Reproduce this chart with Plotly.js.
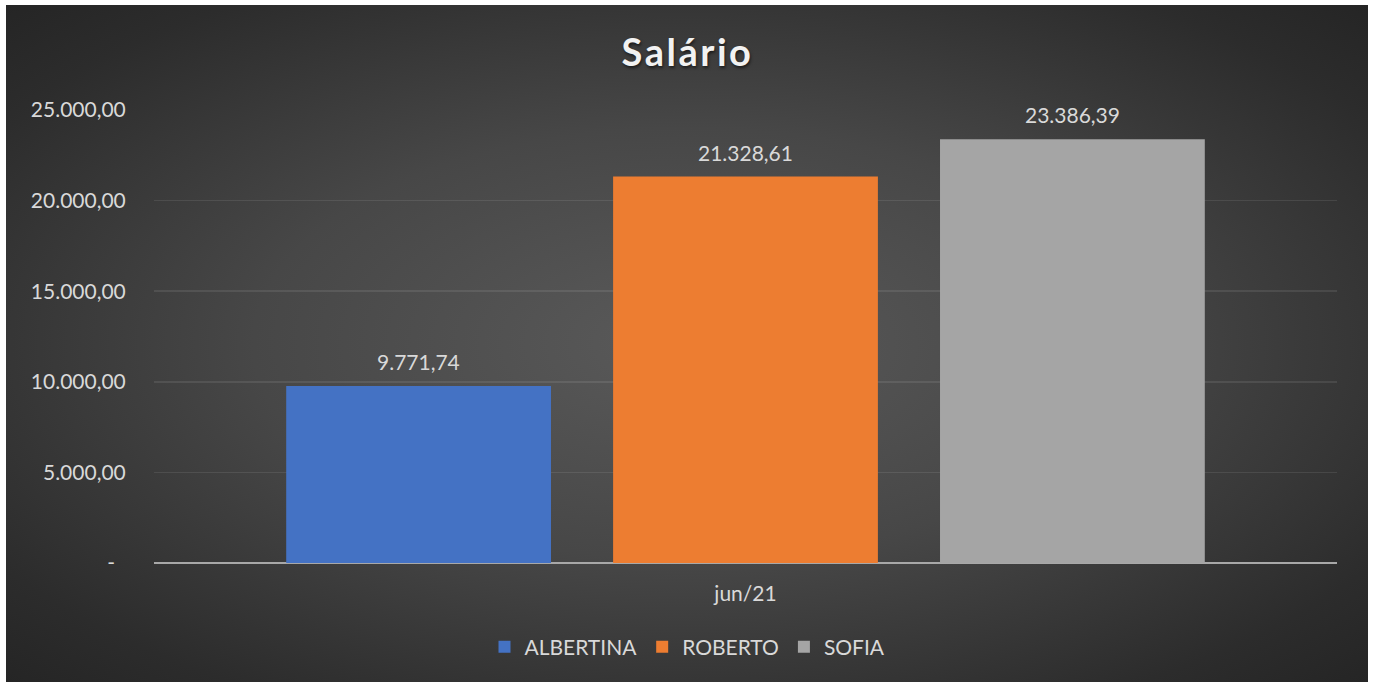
<!DOCTYPE html>
<html>
<head>
<meta charset="utf-8">
<script src="https://cdn.plot.ly/plotly-3.0.1.min.js"></script>
<style>
  html, body { margin: 0; padding: 0; background: #ffffff; }
  #bg { position: absolute; left: 6px; top: 5px; width: 1362px; height: 677px;
        background: radial-gradient(ellipse farthest-corner at 50% 50%, #5a5a5a 0%, #474747 45%, #2c2c2c 85%, #252525 100%); }
  #chart { position: absolute; left: 0; top: 0; width: 1375px; height: 682px; }
  .gtitle { letter-spacing: 2.5px; }
</style>
</head>
<body>
<div id="bg"></div>
<div id="chart"></div>
<script>
const categories = ['jun/21'];
const seriesNames = ['ALBERTINA', 'ROBERTO', 'SOFIA'];
const albertina = [9771.74];
const roberto = [21328.61];
const sofia = [23386.39];
const seriesValues = [albertina, roberto, sofia];
const seriesColors = ['#4472C4', '#ED7D31', '#A5A5A5'];
const yTickVals = [0, 5000, 10000, 15000, 20000, 25000];
const yTickText = ['-\u00a0\u00a0', '5.000,00', '10.000,00', '15.000,00', '20.000,00', '25.000,00'];

const font = 'Lato, "Open Sans", sans-serif';
const textColor = '#d9d9d9';

const traces = seriesNames.map((name, i) => ({
  type: 'bar',
  name: name,
  x: categories,
  y: seriesValues[i],
  marker: { color: seriesColors[i], line: { width: 0 } },
  hoverinfo: 'none'
}));

// data labels placed through the axes' own scales, offset per series slot
const slotPx = 327;
const fmt = v => v.toLocaleString('de-DE', { minimumFractionDigits: 2, maximumFractionDigits: 2 });
const annotations = [];
seriesValues.forEach((vals, i) => {
  vals.forEach((v, j) => {
    annotations.push({
      x: categories[j], y: v, xref: 'x', yref: 'y',
      text: fmt(v), showarrow: false,
      xshift: (i - (seriesValues.length - 1) / 2) * slotPx,
      yanchor: 'bottom', yshift: 10,
      font: { family: font, size: 21, color: textColor }
    });
  });
});

const layout = {
  width: 1375, height: 682,
  paper_bgcolor: 'rgba(0,0,0,0)',
  plot_bgcolor: 'rgba(0,0,0,0)',
  separators: ',.',
  margin: { l: 154, r: 38, t: 110, b: 119 },
  title: {
    text: '<b>Salário</b>',
    x: 0.5, xanchor: 'center',
    y: 1 - 53 / 682, yanchor: 'middle',
    font: { family: font, size: 38, color: '#f2f2f2', shadow: '1px 2px 3px rgba(0,0,0,0.55)' }
  },
  barmode: 'group',
  bargap: 0.171,
  bargroupgap: 0.19,
  xaxis: {
    type: 'category',
    showgrid: false,
    zeroline: false,
    showline: false,
    ticks: 'outside', ticklen: 12, tickcolor: 'rgba(0,0,0,0)',
    tickfont: { family: font, size: 21, color: textColor }
  },
  yaxis: {
    range: [0, 25000],
    tickvals: yTickVals,
    ticktext: yTickText,
    showgrid: true,
    gridcolor: 'rgba(255,255,255,0.09)',
    gridwidth: 1.5,
    zeroline: true,
    zerolinecolor: '#a8a8a8',
    zerolinewidth: 2.5,
    showline: false,
    ticks: 'outside', ticklen: 23, tickcolor: 'rgba(0,0,0,0)',
    tickfont: { family: font, size: 21, color: textColor }
  },
  annotations: annotations,
  showlegend: true,
  legend: {
    orientation: 'h',
    x: 0.5, xanchor: 'center', xref: 'container',
    y: 1 - 647 / 682, yanchor: 'middle', yref: 'container',
    font: { family: font, size: 21, color: textColor },
    itemwidth: 30,
    bgcolor: 'rgba(0,0,0,0)'
  }
};

Plotly.newPlot('chart', traces, layout, { displayModeBar: false, staticPlot: true });
</script>
</body>
</html>
